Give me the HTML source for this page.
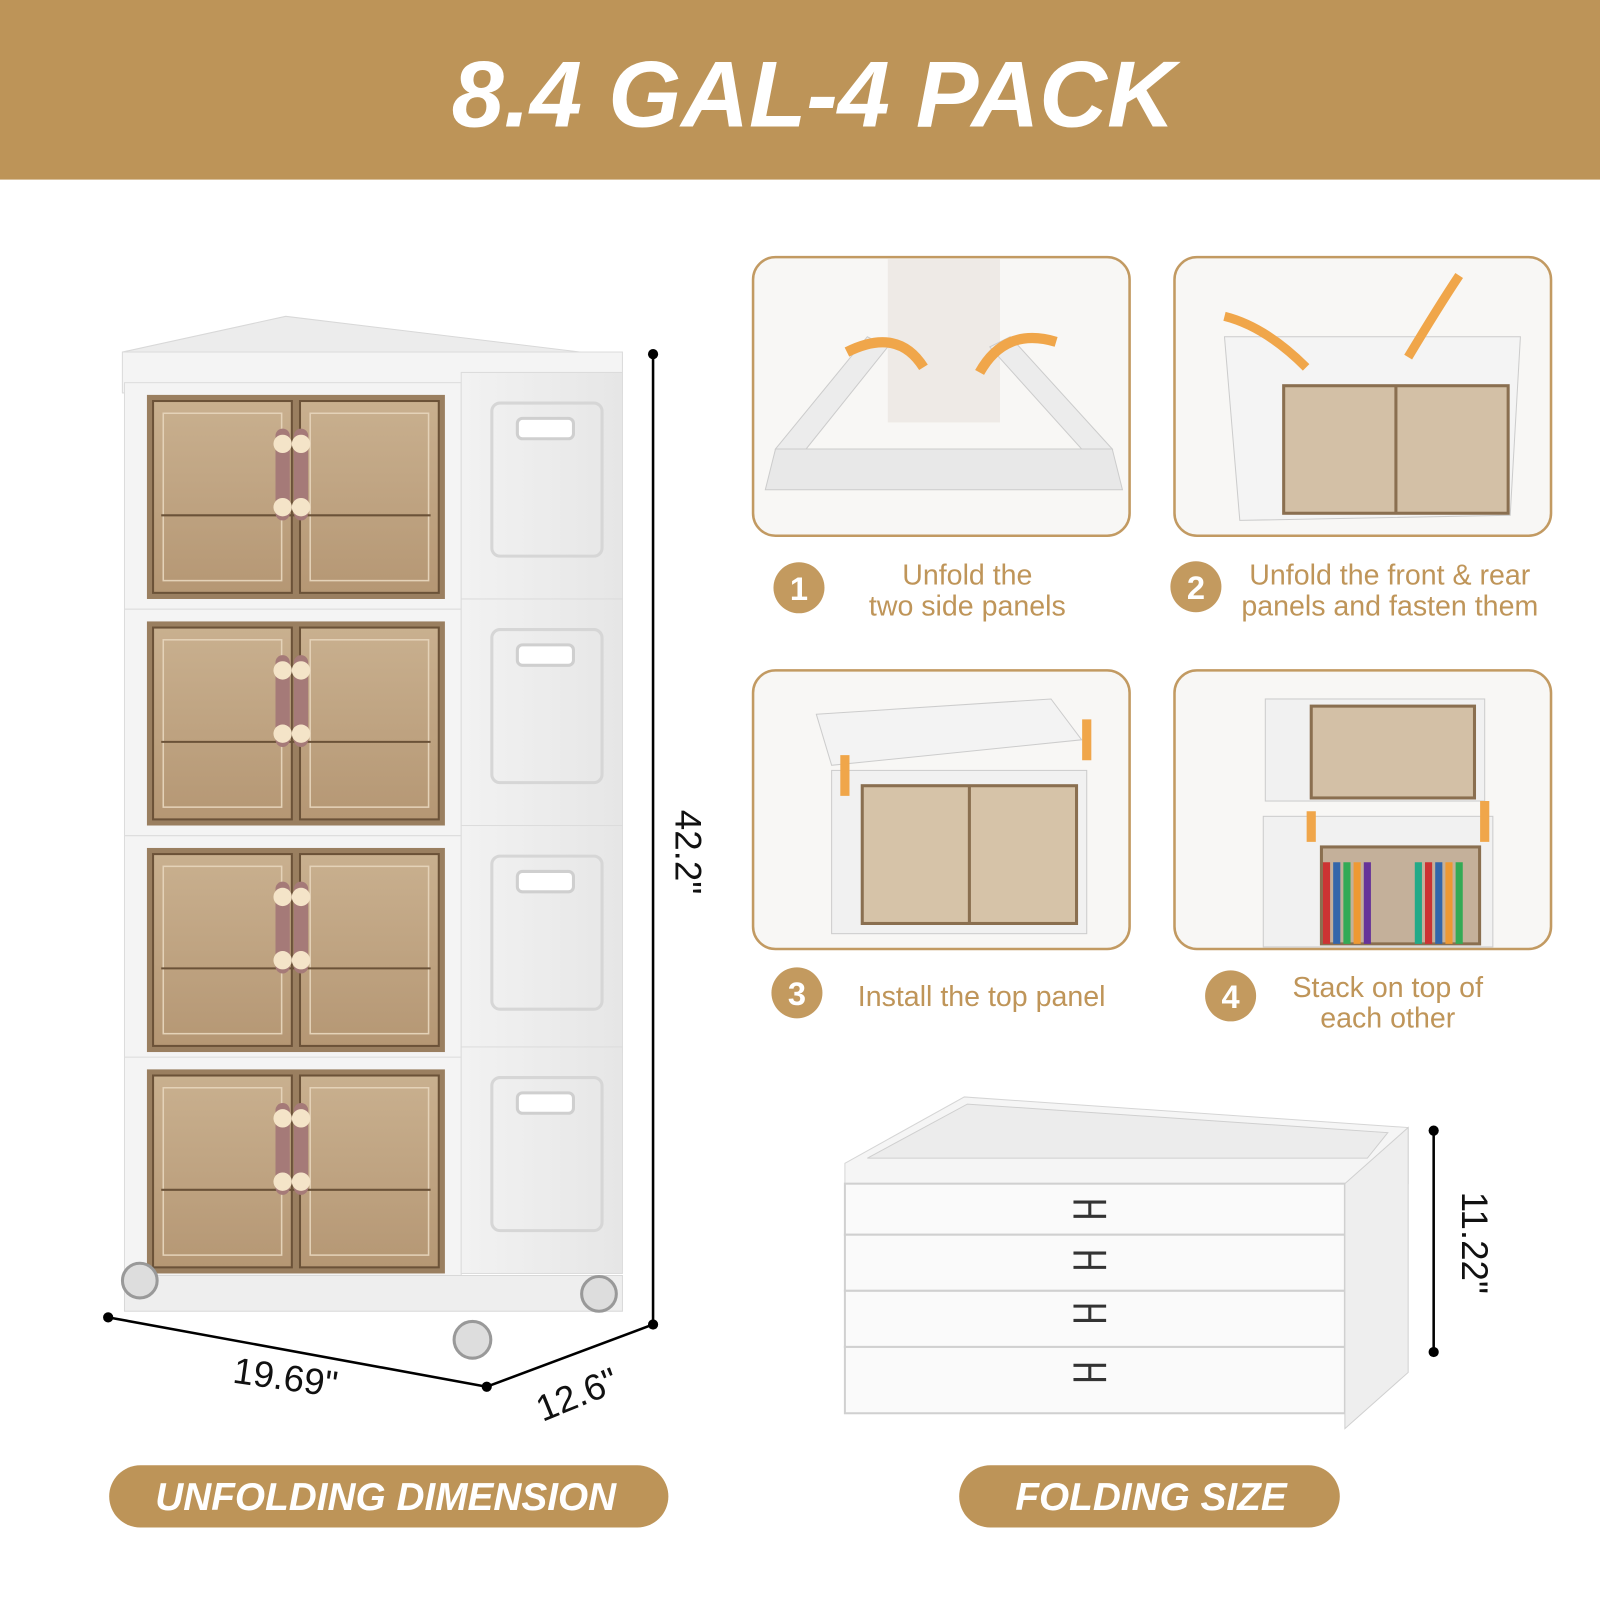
<!DOCTYPE html>
<html><head><meta charset="utf-8">
<style>
html,body{margin:0;padding:0;background:#fff;}
svg{display:block;}
text{font-family:"Liberation Sans","DejaVu Sans",sans-serif;}
</style></head>
<body>
<svg width="1600" height="1600" viewBox="0 0 1568 1568" xmlns="http://www.w3.org/2000/svg">
<defs>
<linearGradient id="door" x1="0" y1="0" x2="0" y2="1">
<stop offset="0" stop-color="#c9b08f"/><stop offset="1" stop-color="#b59774"/>
</linearGradient>
<linearGradient id="side" x1="0" y1="0" x2="1" y2="0">
<stop offset="0" stop-color="#f2f2f2"/><stop offset="1" stop-color="#e6e6e6"/>
</linearGradient>
<g id="drawer">
<rect x="0" y="0" width="330" height="222" fill="#f4f4f4" stroke="#dcdcdc"/>
<rect x="330" y="-10" width="158" height="222" fill="url(#side)" stroke="#dcdcdc"/>
<rect x="360" y="20" width="108" height="150" rx="8" fill="none" stroke="#d6d6d6" stroke-width="3"/>
<rect x="385" y="35" width="55" height="20" rx="5" fill="#fff" stroke="#cfcfcf" stroke-width="3"/>
<rect x="22" y="12" width="292" height="200" fill="#9a7f60"/>
<rect x="28" y="18" width="136" height="188" fill="url(#door)" stroke="#6b5238" stroke-width="2"/>
<rect x="172" y="18" width="136" height="188" fill="url(#door)" stroke="#6b5238" stroke-width="2"/>
<rect x="38" y="30" width="116" height="164" fill="none" stroke="#e4d2b8" stroke-width="1.5"/>
<rect x="182" y="30" width="116" height="164" fill="none" stroke="#e4d2b8" stroke-width="1.5"/>
<line x1="36" y1="130" x2="300" y2="130" stroke="#6b5238" stroke-width="2"/>
<rect x="148" y="45" width="14" height="90" rx="7" fill="#a57a78"/>
<rect x="166" y="45" width="14" height="90" rx="7" fill="#a57a78"/>
<circle cx="155" cy="60" r="9" fill="#f4e4c8"/><circle cx="173" cy="60" r="9" fill="#f4e4c8"/>
<circle cx="155" cy="122" r="9" fill="#f4e4c8"/><circle cx="173" cy="122" r="9" fill="#f4e4c8"/>
</g>
</defs>

<rect x="0" y="0" width="1568" height="176" fill="#bd9458"/>
<text x="797" y="124" text-anchor="middle" font-size="92" font-weight="bold" font-style="italic" fill="#fff">8.4 GAL-4 PACK</text>

<polygon points="120,345 280,310 610,350 610,385 120,385" fill="#ececec" stroke="#d8d8d8"/>
<rect x="120" y="345" width="490" height="40" fill="#f4f4f4" stroke="#dcdcdc"/>
<use href="#drawer" x="122" y="375"/>
<use href="#drawer" x="122" y="597"/>
<use href="#drawer" x="122" y="819"/>
<use href="#drawer" x="122" y="1036"/>
<rect x="122" y="1250" width="488" height="35" fill="#eeeeee" stroke="#d8d8d8"/>
<circle cx="137" cy="1255" r="17" fill="#ddd" stroke="#999" stroke-width="3"/>
<circle cx="587" cy="1268" r="17" fill="#ddd" stroke="#999" stroke-width="3"/>
<circle cx="463" cy="1313" r="18" fill="#ddd" stroke="#999" stroke-width="3"/>

<g stroke="#000" stroke-width="2.5">
<line x1="640" y1="347" x2="640" y2="1298"/>
<line x1="106" y1="1291" x2="477" y2="1359"/>
<line x1="477" y1="1359" x2="640" y2="1298"/>
<line x1="1405" y1="1108" x2="1405" y2="1325"/>
</g>
<g fill="#000">
<circle cx="640" cy="347" r="5"/><circle cx="640" cy="1298" r="5"/>
<circle cx="106" cy="1291" r="5"/><circle cx="477" cy="1359" r="5"/>
<circle cx="1405" cy="1108" r="5"/><circle cx="1405" cy="1325" r="5"/>
</g>
<text transform="translate(662,835) rotate(90)" text-anchor="middle" font-size="36" fill="#111">42.2"</text>
<text transform="translate(278,1362) rotate(8)" text-anchor="middle" font-size="36" fill="#111">19.69"</text>
<text transform="translate(570,1378) rotate(-22)" text-anchor="middle" font-size="36" fill="#111">12.6"</text>
<text transform="translate(1433,1218) rotate(90)" text-anchor="middle" font-size="36" fill="#111">11.22"</text>

<g fill="#f8f7f5" stroke="#c29a62" stroke-width="2.5">
<rect x="738" y="252" width="369" height="273" rx="22"/>
<rect x="1151" y="252" width="369" height="273" rx="22"/>
<rect x="738" y="657" width="369" height="273" rx="22"/>
<rect x="1151" y="657" width="369" height="273" rx="22"/>
</g>
<rect x="870" y="254" width="110" height="160" fill="#eeeae6"/>
<polygon points="750,480 1100,480 1090,440 760,440" fill="#e8e8e8" stroke="#ccc"/>
<polygon points="760,440 850,330 870,340 790,440" fill="#ececec" stroke="#ccc"/>
<polygon points="1090,440 990,330 970,340 1060,440" fill="#ececec" stroke="#ccc"/>
<path d="M905,360 Q880,320 830,345" stroke="#f0a64a" stroke-width="10" fill="none"/>
<path d="M960,365 Q985,320 1035,335" stroke="#f0a64a" stroke-width="10" fill="none"/>
<polygon points="1200,330 1490,330 1480,505 1215,510" fill="#f4f4f4" stroke="#ccc"/>
<rect x="1258" y="378" width="220" height="125" fill="#d3c0a6" stroke="#8a6f50" stroke-width="3"/>
<line x1="1368" y1="378" x2="1368" y2="503" stroke="#8a6f50" stroke-width="3"/>
<path d="M1280,360 Q1240,320 1200,310" stroke="#f0a64a" stroke-width="9" fill="none"/>
<path d="M1380,350 Q1410,300 1430,270" stroke="#f0a64a" stroke-width="9" fill="none"/>
<polygon points="800,700 1030,685 1060,725 815,750" fill="#f3f3f3" stroke="#ccc"/>
<rect x="815" y="755" width="250" height="160" fill="#f1f1f1" stroke="#ccc"/>
<rect x="845" y="770" width="210" height="135" fill="#d6c3a8" stroke="#8a6f50" stroke-width="3"/>
<line x1="950" y1="770" x2="950" y2="905" stroke="#8a6f50" stroke-width="3"/>
<path d="M828,740 L828,780" stroke="#f0a64a" stroke-width="9"/>
<path d="M1065,705 L1065,745" stroke="#f0a64a" stroke-width="9"/>
<rect x="1240" y="685" width="215" height="100" fill="#f1f1f1" stroke="#ccc"/>
<rect x="1285" y="692" width="160" height="90" fill="#d3c0a6" stroke="#8a6f50" stroke-width="3"/>
<rect x="1238" y="800" width="225" height="128" fill="#f1f1f1" stroke="#ccc"/>
<rect x="1295" y="830" width="155" height="95" fill="#c4b09a" stroke="#8a6f50" stroke-width="3"/>
<g stroke-width="7">
<line x1="1300" y1="845" x2="1300" y2="925" stroke="#c33"/><line x1="1310" y1="845" x2="1310" y2="925" stroke="#36a"/>
<line x1="1320" y1="845" x2="1320" y2="925" stroke="#3a5"/><line x1="1330" y1="845" x2="1330" y2="925" stroke="#e93"/>
<line x1="1340" y1="845" x2="1340" y2="925" stroke="#639"/><line x1="1390" y1="845" x2="1390" y2="925" stroke="#2a8"/>
<line x1="1400" y1="845" x2="1400" y2="925" stroke="#c33"/><line x1="1410" y1="845" x2="1410" y2="925" stroke="#36a"/>
<line x1="1420" y1="845" x2="1420" y2="925" stroke="#e93"/><line x1="1430" y1="845" x2="1430" y2="925" stroke="#3a5"/>
</g>
<path d="M1285,795 L1285,825" stroke="#f0a64a" stroke-width="9"/>
<path d="M1455,785 L1455,825" stroke="#f0a64a" stroke-width="9"/>

<g fill="#c39a5f">
<circle cx="783" cy="576" r="25"/><circle cx="1172" cy="575" r="25"/>
<circle cx="781" cy="973" r="25"/><circle cx="1206" cy="976" r="25"/>
</g>
<g fill="#fff" font-size="32" font-weight="bold" text-anchor="middle">
<text x="783" y="588">1</text><text x="1172" y="587">2</text>
<text x="781" y="985">3</text><text x="1206" y="988">4</text>
</g>
<g fill="#bf9559" font-size="28" text-anchor="middle">
<text x="948" y="573">Unfold the</text>
<text x="948" y="603">two side panels</text>
<text x="1362" y="573">Unfold the front &amp; rear</text>
<text x="1362" y="603">panels and fasten them</text>
<text x="962" y="986">Install the top panel</text>
<text x="1360" y="977">Stack on top of</text>
<text x="1360" y="1007">each other</text>
</g>

<polygon points="828,1140 945,1075 1380,1105 1380,1160 828,1160" fill="#f5f5f5" stroke="#d5d5d5"/>
<polygon points="850,1135 948,1082 1360,1110 1340,1135" fill="#ececec" stroke="#cfcfcf"/>
<g fill="#fafafa" stroke="#d0d0d0" stroke-width="2">
<rect x="828" y="1160" width="490" height="50"/>
<rect x="828" y="1210" width="490" height="55"/>
<rect x="828" y="1265" width="490" height="55"/>
<rect x="828" y="1320" width="490" height="65"/>
</g>
<polygon points="1318,1160 1380,1105 1380,1345 1318,1400" fill="#eeeeee" stroke="#d0d0d0"/>
<g fill="none" stroke="#333" stroke-width="3">
<path d="M1052,1178 h32 M1068,1178 v14 M1052,1192 h32"/>
<path d="M1052,1228 h32 M1068,1228 v14 M1052,1242 h32"/>
<path d="M1052,1280 h32 M1068,1280 v14 M1052,1294 h32"/>
<path d="M1052,1338 h32 M1068,1338 v14 M1052,1352 h32"/>
</g>

<rect x="107" y="1436" width="548" height="61" rx="30.5" fill="#bd9458"/>
<rect x="940" y="1436" width="373" height="61" rx="30.5" fill="#bd9458"/>
<text x="378" y="1480" text-anchor="middle" font-size="38" font-weight="bold" font-style="italic" fill="#fff">UNFOLDING DIMENSION</text>
<text x="1128" y="1480" text-anchor="middle" font-size="38" font-weight="bold" font-style="italic" fill="#fff">FOLDING SIZE</text>
</svg>
</body></html>
